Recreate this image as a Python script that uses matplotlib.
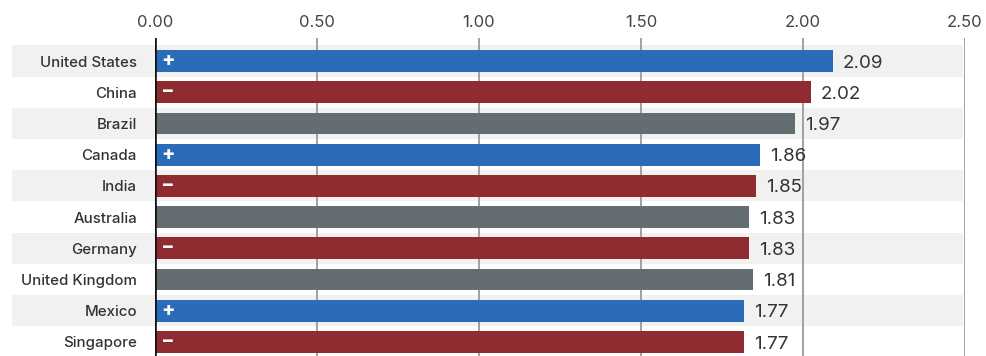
import matplotlib.pyplot as plt

# Data
countries = ['United States', 'China', 'Brazil', 'Canada', 'India',
             'Australia', 'Germany', 'United Kingdom', 'Mexico', 'Singapore']
values = [2.09, 2.02, 1.97, 1.86, 1.85, 1.83, 1.83, 1.81, 1.77, 1.77]
# bar lengths as drawn in the picture (lower bars are drawn a bit longer than their labels)
bar_lengths = [2.093, 2.025, 1.975, 1.867, 1.855, 1.833, 1.833, 1.846, 1.818, 1.818]
signs = ['+', '-', '', '+', '-', '', '-', '', '+', '-']
ticks = [0.0, 0.5, 1.0, 1.5, 2.0, 2.5]

sign_colors = {'+': '#2a6cb8', '-': '#8e2c32', '': '#646d72'}
colors = [sign_colors[s] for s in signs]

plt.rcParams['font.family'] = ['Inter', 'DejaVu Sans']

fig = plt.figure(figsize=(9.86, 3.56), dpi=100)
ax = fig.add_axes([155 / 986, 0, 810 / 986, 318 / 356])

ypos = list(range(len(countries)))

# Alternating row bands that reach out under the country labels
for i in ypos:
    if i % 2 == 0:
        ax.axhspan(i - 0.5, i + 0.5, xmin=-0.1765, xmax=0.9975,
                   color='#f1f1f1', lw=0, zorder=0, clip_on=False)

# Vertical grid lines
for t in ticks[1:]:
    ax.axvline(t, color='#9a9a9a', lw=1.3, zorder=1)
ax.axvline(0, color='#111111', lw=2.6, zorder=4)

ax.barh(ypos, bar_lengths, height=0.7, color=colors, zorder=3)

for i, (v, b, s) in enumerate(zip(values, bar_lengths, signs)):
    ax.annotate(f'{v:.2f}', (b, i), xytext=(7, -1.5), textcoords='offset points',
                ha='left', va='center', fontsize=13.5, color='#333333', zorder=5)
    if s:
        ax.annotate('+' if s == '+' else '\u2013', (0, i), xytext=(9, 0),
                    textcoords='offset points', ha='center', va='center',
                    fontsize=14, fontweight='heavy', color='white', zorder=5)

ax.set_xlim(0, 2.5)
ax.set_ylim(9.449, -0.737)

ax.xaxis.tick_top()
ax.set_xticks(ticks)
ax.set_xticklabels([f'{t:.2f}' for t in ticks], fontsize=12, color='#444444')
ax.tick_params(axis='x', length=0, pad=6)

ax.set_yticks(ypos)
ax.set_yticklabels(countries, fontsize=10.8, fontweight='medium', color='#333333')
ax.tick_params(axis='y', length=0, pad=13)

for sp in ax.spines.values():
    sp.set_visible(False)

fig.savefig('out.png', dpi=100)
